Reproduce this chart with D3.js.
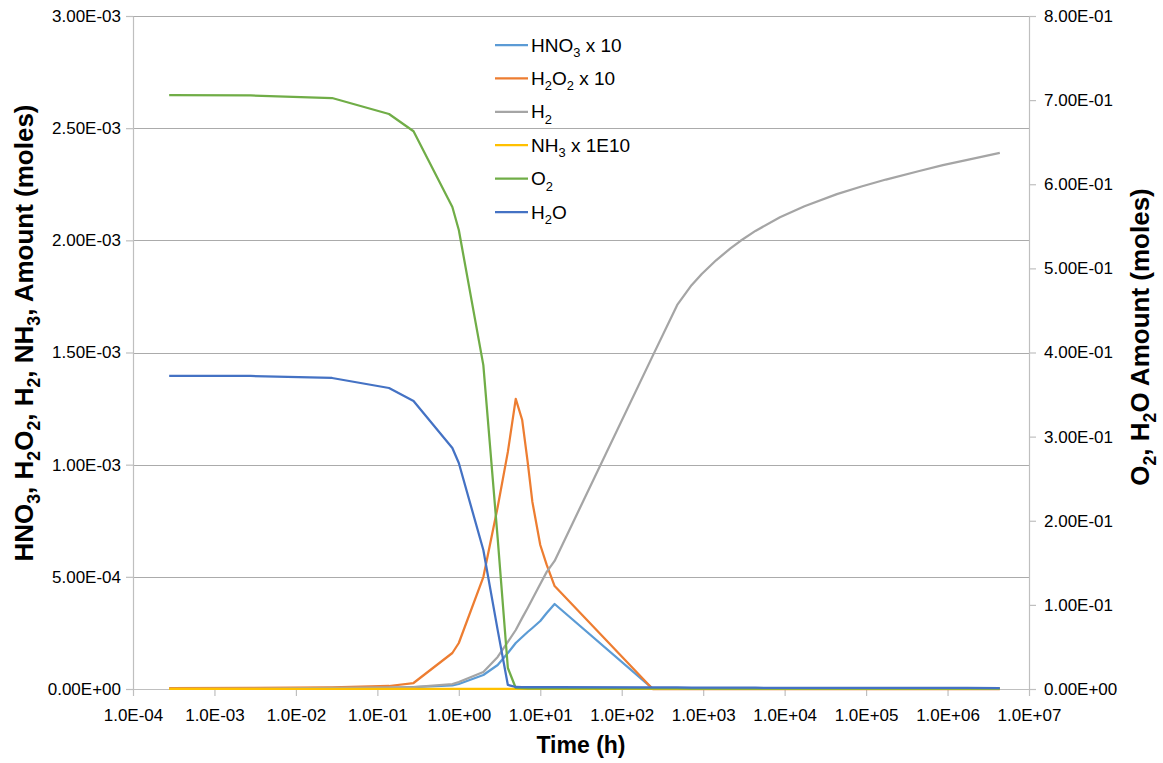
<!DOCTYPE html>
<html>
<head>
<meta charset="utf-8">
<script src="https://cdn.jsdelivr.net/npm/d3@7"></script>
<style>
  html, body { margin: 0; padding: 0; background: #ffffff; }
  svg { display: block; font-family: "Liberation Sans", Arial, sans-serif; }
</style>
</head>
<body>
<svg id="chart" width="1163" height="763"></svg>
<script>
// Sample times (hours)
const timeH = [0.000278, 0.00278, 0.0278, 0.139, 0.278, 0.833, 1, 2, 3, 4, 5, 6, 7, 8, 10, 12, 15,
               240, 480, 720, 960, 1440, 2160, 2880, 4380, 8760, 17520, 43800, 87600, 175200,
               438000, 876000, 1752000, 4380000];

// Primary axis series (moles)
const hno3x10 = [9e-7, 1.3e-6, 2.2e-6, 4.5e-6, 8.9e-6, 1.56e-5, 2.23e-5, 6.24e-5, 1.07e-4, 1.605e-4, 2.05e-4,
                 2.32e-4, 2.54e-4, 2.72e-4, 3.03e-4, 3.39e-4, 3.79e-4,
                 1.3e-6, 1.2e-6, 1.1e-6, 1.1e-6, 1.0e-6, 1.0e-6, 1.0e-6, 9e-7, 9e-7, 9e-7, 9e-7,
                 8e-7, 8e-7, 8e-7, 8e-7, 8e-7, 8e-7];
const h2o2x10 = [3.6e-6, 4.5e-6, 6.7e-6, 1.34e-5, 2.67e-5, 1.605e-4, 2.05e-4, 4.99e-4, 8.11e-4, 1.057e-3, 1.293e-3,
                 1.199e-3, 1.012e-3, 8.34e-4, 6.42e-4, 5.53e-4, 4.59e-4,
                 0, 0, 0, 0, 0, 0, 0, 0, 0, 0, 0, 0, 0, 0, 0, 0, 0];
const h2 = [9e-7, 1.8e-6, 4.5e-6, 6.7e-6, 8.9e-6, 2.2e-5, 3.1e-5, 7.6e-5, 1.43e-4, 2.1e-4, 2.63e-4,
            3.17e-4, 3.61e-4, 4.01e-4, 4.68e-4, 5.22e-4, 5.71e-4,
            1.485e-3, 1.712e-3, 1.800e-3, 1.850e-3, 1.911e-3, 1.964e-3, 1.998e-3, 2.042e-3, 2.103e-3,
            2.152e-3, 2.206e-3, 2.240e-3, 2.271e-3, 2.308e-3, 2.335e-3, 2.359e-3, 2.390e-3];
const nh3x1e10 = [1e-7, 1e-7, 1e-7, 1e-7, 1e-7, 2e-7, 2e-7, 2e-7, 2e-7, 2e-7, 2e-7,
                  2e-7, 2e-7, 2e-7, 2e-7, 2e-7, 2e-7,
                  1e-7, 1e-7, 1e-7, 1e-7, 1e-7, 1e-7, 1e-7, 1e-7, 1e-7, 1e-7, 1e-7,
                  1e-7, 1e-7, 1e-7, 1e-7, 1e-7, 1e-7];

// Secondary axis series (moles)
const o2 = [0.706, 0.7055, 0.7025, 0.6835, 0.663, 0.573, 0.5456, 0.385, 0.179, 0.025, 0.0012,
            0.0009, 0.0008, 0.0008, 0.0007, 0.0007, 0.0007,
            0.0006, 0.0006, 0.0005, 0.0005, 0.0005, 0.0005, 0.0005, 0.0005, 0.0004, 0.0004, 0.0004,
            0.0004, 0.0004, 0.0004, 0.0004, 0.0004, 0.0004];
const h2o = [0.3721, 0.3721, 0.3697, 0.3578, 0.3423, 0.2865, 0.2687, 0.1652, 0.07, 0.0048, 0.0024,
             0.0023, 0.0023, 0.0022, 0.0022, 0.0022, 0.0021,
             0.0019, 0.0018, 0.0017, 0.0017, 0.0016, 0.0016, 0.0015, 0.0015, 0.0014, 0.0014, 0.0013,
             0.0013, 0.0013, 0.0012, 0.0012, 0.0012, 0.0011];

// Tick values
const xTicks = [1e-4, 1e-3, 1e-2, 1e-1, 1e0, 1e1, 1e2, 1e3, 1e4, 1e5, 1e6, 1e7];
const yLeftTicks = [0, 5e-4, 1e-3, 1.5e-3, 2e-3, 2.5e-3, 3e-3];
const yRightTicks = [0, 0.1, 0.2, 0.3, 0.4, 0.5, 0.6, 0.7, 0.8];

// Labels (underscore + digit marks a subscript)
const seriesLabels = ["HNO_3 x 10", "H_2O_2 x 10", "H_2", "NH_3 x 1E10", "O_2", "H_2O"];
const seriesColors = ["#5B9BD5", "#ED7D31", "#A5A5A5", "#FFC000", "#70AD47", "#4472C4"];
const leftTitle = "HNO_3, H_2O_2, H_2, NH_3, Amount (moles)";
const rightTitle = "O_2, H_2O Amount (moles)";
const xTitle = "Time (h)";

// Layout
const plot = { left: 133, right: 1029, top: 16, bottom: 689 };
const gridColor = "#ABABAB";
const axisColor = "#BFBFBF";

const svg = d3.select("#chart");

const x = d3.scaleLog().domain([1e-4, 1e7]).range([plot.left, plot.right]);
const yL = d3.scaleLinear().domain([0, 3e-3]).range([plot.bottom, plot.top]);
const yR = d3.scaleLinear().domain([0, 0.8]).range([plot.bottom, plot.top]);

// Scientific notation like 2.50E-03
function sci(d) {
  return v => {
    const [m, e] = v.toExponential(d).split("e");
    const n = +e;
    return m + "E" + (n < 0 ? "-" : "+") + String(Math.abs(n)).padStart(2, "0");
  };
}

// Writes text with subscripts into a <text> element
function richText(textSel, str, fs) {
  const parts = str.split(/_(\d)/);
  let sub = false;
  parts.forEach((p, i) => {
    const isSub = i % 2 === 1;
    if (p === "") return;
    const t = textSel.append("tspan").text(p);
    if (isSub) {
      t.attr("font-size", fs * 0.68).attr("dy", fs * 0.28);
      sub = true;
    } else if (sub) {
      t.attr("dy", -fs * 0.28);
      sub = false;
    }
  });
}

// Horizontal gridlines
svg.append("g")
  .selectAll("line")
  .data(yLeftTicks)
  .join("line")
  .attr("x1", plot.left).attr("x2", plot.right)
  .attr("y1", d => Math.round(yL(d)) + 0.5).attr("y2", d => Math.round(yL(d)) + 0.5)
  .attr("stroke", gridColor).attr("stroke-width", 1);

// Axes
function styleAxis(g) {
  g.select(".domain").attr("stroke", axisColor).attr("stroke-width", 1.2);
  g.selectAll(".tick line").attr("stroke", axisColor).attr("stroke-width", 1.2);
  g.selectAll(".tick text").attr("fill", "#000").attr("font-size", 17)
    .attr("font-family", "'Liberation Sans', Arial, sans-serif");
}

svg.append("g")
  .attr("transform", `translate(${plot.left},0)`)
  .call(d3.axisLeft(yL).tickValues(yLeftTicks).tickFormat(sci(2)).tickSizeInner(7).tickSizeOuter(0).tickPadding(5))
  .call(styleAxis);

svg.append("g")
  .attr("transform", `translate(${plot.right},0)`)
  .call(d3.axisRight(yR).tickValues(yRightTicks).tickFormat(sci(2)).tickSizeInner(7).tickSizeOuter(0).tickPadding(8))
  .call(styleAxis);

svg.append("g")
  .attr("transform", `translate(0,${plot.bottom})`)
  .call(d3.axisBottom(x).tickValues(xTicks).tickFormat(sci(1)).tickSizeInner(7).tickSizeOuter(0).tickPadding(13))
  .call(styleAxis);

// Series lines: primary axis first, secondary axis on top
const series = [
  { values: hno3x10, y: yL },
  { values: h2o2x10, y: yL },
  { values: h2, y: yL },
  { values: nh3x1e10, y: yL },
  { values: o2, y: yR },
  { values: h2o, y: yR }
];

series.forEach((s, k) => {
  const line = d3.line().x((d, i) => x(timeH[i])).y(d => s.y(d));
  svg.append("path")
    .datum(s.values)
    .attr("d", line)
    .attr("fill", "none")
    .attr("stroke", seriesColors[k])
    .attr("stroke-width", 2.25)
    .attr("stroke-linejoin", "round");
});

// Legend
const legend = { x: 495, y: 45, step: 33.4, lineLen: 33, fs: 19 };
seriesLabels.forEach((lab, k) => {
  const yy = legend.y + k * legend.step;
  svg.append("line")
    .attr("x1", legend.x).attr("x2", legend.x + legend.lineLen)
    .attr("y1", yy).attr("y2", yy)
    .attr("stroke", seriesColors[k]).attr("stroke-width", 2.25);
  const t = svg.append("text")
    .attr("x", legend.x + legend.lineLen + 3)
    .attr("y", yy + legend.fs * 0.35)
    .attr("font-size", legend.fs)
    .attr("fill", "#000");
  richText(t, lab, legend.fs);
});

// Axis titles
const lt = svg.append("text")
  .attr("transform", `translate(33,333) rotate(-90)`)
  .attr("text-anchor", "middle")
  .attr("font-weight", "bold")
  .attr("font-size", 26)
  .attr("fill", "#000");
richText(lt, leftTitle, 26);

const rt = svg.append("text")
  .attr("transform", `translate(1149,337) rotate(-90)`)
  .attr("text-anchor", "middle")
  .attr("font-weight", "bold")
  .attr("font-size", 26)
  .attr("fill", "#000");
richText(rt, rightTitle, 26);

svg.append("text")
  .attr("x", (plot.left + plot.right) / 2)
  .attr("y", 753)
  .attr("text-anchor", "middle")
  .attr("font-weight", "bold")
  .attr("font-size", 23)
  .attr("fill", "#000")
  .text(xTitle);
</script>
</body>
</html>
